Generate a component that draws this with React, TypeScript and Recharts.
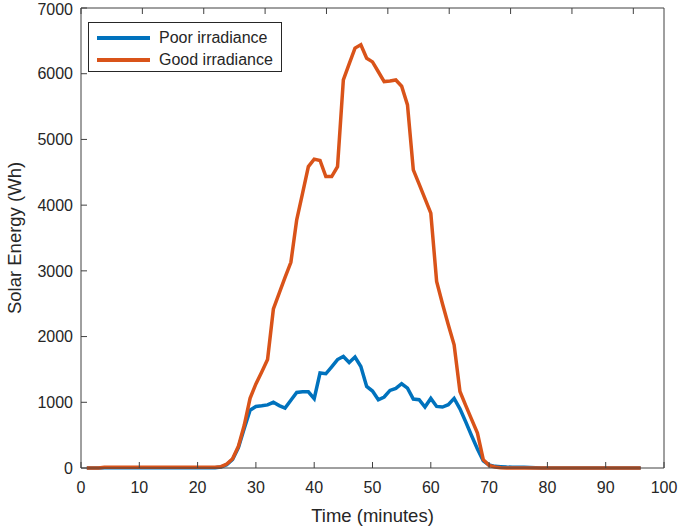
import React from 'react';
import { LineChart, Line, XAxis, YAxis, Legend } from 'recharts';

const minutes = Array.from({ length: 96 }, (_, i) => i + 1);

// Solar energy (Wh) per minute
const poorIrradiance = [
  0, 0, 0, 5, 5, 5, 5, 5, 5, 5, 5, 5, 5, 5, 5, 5, 5, 5, 5, 5, 5, 5, 5,
  15, 50, 130, 310, 600, 880, 937, 947, 960, 1000, 950, 912, 1030, 1150, 1160, 1160, 1054,
  1445, 1434, 1540, 1650, 1697, 1606, 1688, 1545, 1241, 1171, 1039, 1080, 1180, 1211, 1282,
  1216, 1049, 1039, 928, 1059, 937, 928, 963, 1059, 900, 700, 490, 290, 110, 45, 25, 20,
  15, 12, 10, 10, 8, 5,
  0, 0, 0, 0, 0, 0, 0, 0, 0, 0, 0, 0, 0, 0, 0, 0, 0, 0,
];

const goodIrradiance = [
  0, 0, 0, 10, 10, 10, 10, 10, 10, 10, 10, 10, 10, 10, 10, 10, 10, 10, 10, 10, 10, 10, 10,
  20, 60, 140, 330, 650, 1060, 1280, 1460, 1650, 2420, 2660, 2900, 3130, 3776, 4180, 4586, 4700,
  4680, 4434, 4434, 4586, 5905, 6150, 6390, 6440, 6235, 6180, 6030, 5880, 5890, 5905, 5810,
  5525, 4536, 4320, 4100, 3878, 2838, 2500, 2180, 1875, 1165, 950, 740, 532, 126, 40, 15, 5,
  0, 0, 0, 0, 0, 0, 0, 0, 0, 0, 0, 0, 0, 0, 0, 0, 0, 0, 0, 0, 0, 0, 0, 0,
];

const seriesOrder = ['Poor irradiance', 'Good irradiance'];
const xTicks = [0, 10, 20, 30, 40, 50, 60, 70, 80, 90, 100];
const yTicks = [0, 1000, 2000, 3000, 4000, 5000, 6000, 7000];

const data = minutes.map((minute, i) => ({
  minute,
  poor: poorIrradiance[i],
  good: goodIrradiance[i],
}));

const FONT = '"Liberation Sans", Arial, Helvetica, sans-serif';
const TEXT = '#262626';
const AXIS = '#404040';

const emptyTick = () => <g />;

const renderLegend = (props: any) => {
  const payload = [...(props.payload || [])].sort(
    (a: any, b: any) => seriesOrder.indexOf(a.value) - seriesOrder.indexOf(b.value)
  );
  return (
    <div
      style={{
        width: 192,
        height: 44,
        border: `1px solid ${TEXT}`,
        background: '#fff',
        fontFamily: FONT,
        fontSize: 16,
        color: TEXT,
        paddingTop: 4,
        boxSizing: 'content-box',
      }}
    >
      {payload.map((entry: any) => (
        <div key={entry.value} style={{ display: 'flex', alignItems: 'center', height: 22 }}>
          <div style={{ marginLeft: 8, width: 53, height: 3.5, background: entry.color }} />
          <span style={{ marginLeft: 9, lineHeight: '22px' }}>{entry.value}</span>
        </div>
      ))}
    </div>
  );
};

const XLabel = (props: any) => {
  const { viewBox } = props;
  return (
    <text
      x={viewBox.x + viewBox.width / 2}
      y={522}
      textAnchor="middle"
      fill={TEXT}
      fontSize={18.5}
      fontFamily={FONT}
    >
      Time (minutes)
    </text>
  );
};

const YLabel = () => (
  <text
    x={21}
    y={238}
    transform="rotate(-90, 21, 238)"
    textAnchor="middle"
    fill={TEXT}
    fontSize={18.5}
    fontFamily={FONT}
  >
    Solar Energy (Wh)
  </text>
);

export default function App() {
  return (
    <div style={{ position: 'absolute', left: 0, top: 0, width: 678, height: 531, background: '#fff' }}>
      <LineChart width={678} height={531} data={data} margin={{ top: 0, right: 0, bottom: 0, left: 0 }}>
        <XAxis
          dataKey="minute"
          type="number"
          domain={[0, 100]}
          ticks={xTicks}
          height={63}
          tickSize={-6}
          tickMargin={20}
          stroke={AXIS}
          tick={{ fill: TEXT, fontSize: 16, fontFamily: FONT }}
          label={XLabel}
        />
        <XAxis
          xAxisId="top"
          orientation="top"
          type="number"
          domain={[0, 100]}
          ticks={xTicks}
          height={8}
          tickSize={-6}
          stroke={AXIS}
          tick={emptyTick}
        />
        <YAxis
          type="number"
          domain={[0, 7000]}
          ticks={yTicks}
          width={81}
          tickSize={-6}
          tickMargin={14}
          stroke={AXIS}
          tick={{ fill: TEXT, fontSize: 16, fontFamily: FONT }}
          label={YLabel}
        />
        <YAxis
          yAxisId="right"
          orientation="right"
          type="number"
          domain={[0, 7000]}
          ticks={yTicks}
          width={14}
          tickSize={-6}
          stroke={AXIS}
          tick={emptyTick}
        />
        <Legend
          content={renderLegend}
          layout="vertical"
          align="center"
          verticalAlign="middle"
          wrapperStyle={{ position: 'absolute', left: 88, top: 22, width: 'auto', height: 'auto' }}
        />
        <Line
          dataKey="poor"
          name="Poor irradiance"
          stroke="#0072BD"
          strokeWidth={3.5}
          dot={false}
          isAnimationActive={false}
        />
        <Line
          dataKey="good"
          name="Good irradiance"
          stroke="#D95319"
          strokeWidth={3.5}
          dot={false}
          isAnimationActive={false}
        />
      </LineChart>
    </div>
  );
}
